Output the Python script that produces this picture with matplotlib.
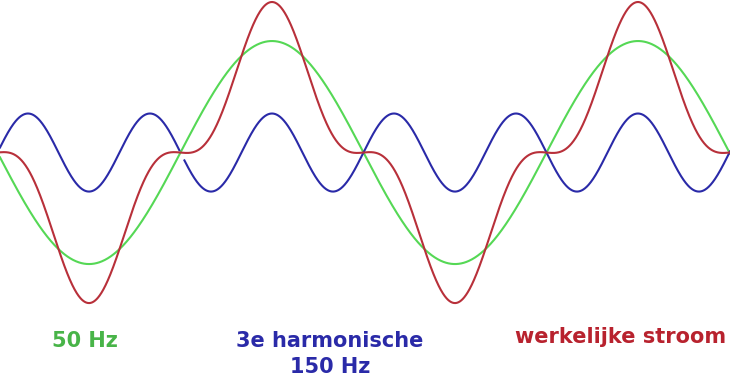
import numpy as np
import matplotlib
matplotlib.use('Agg')
import matplotlib.pyplot as plt

# fundamental and 3rd harmonic (relative amplitudes)
freqs = [50, 150]          # Hz
amps = [1.0, 0.35]         # relative amplitude
labels = ['50 Hz', '3e harmonische', '150 Hz', 'werkelijke stroom']
line_colors = ['#55d855', '#2a2aa8', '#b8303a']
text_colors = ['#48b448', '#2a2aa8', '#2a2aa8', '#b8222e']

t0, t1 = 0.137, 40.03     # ms shown across the width
t = np.linspace(t0, t1, 2000)
w = 2 * np.pi * np.array(freqs) / 1000.0
fund = -amps[0] * np.sin(w[0] * t)
harm = amps[1] * np.sin(w[1] * t)
total = fund + harm

# little gap in the harmonic line, as in the original drawing
harm_drawn = np.where((t > 9.95) & (t < 10.2), np.nan, harm)

fig = plt.figure(figsize=(7.3, 3.76), dpi=100)
ax = fig.add_axes([0, 0, 1, 1])
ax.plot(t, fund, c=line_colors[0], lw=1.5)
ax.plot(t, harm_drawn, c=line_colors[1], lw=1.5)
ax.plot(t, total, c=line_colors[2], lw=1.5)
ax.set_xlim(t0, t1)
ax.set_ylim(-2.004, 1.368)
ax.axis('off')

# label positions in pixels (x centre, baseline from top)
pos = [(85, 347), (330, 347), (330, 373), (621, 343)]
for lab, col, (px, py) in zip(labels, text_colors, pos):
    fig.text(px/730, 1 - py/376, lab, color=col, fontsize=15,
             fontweight='bold', ha='center', va='baseline')

fig.savefig('out.png', dpi=100)
